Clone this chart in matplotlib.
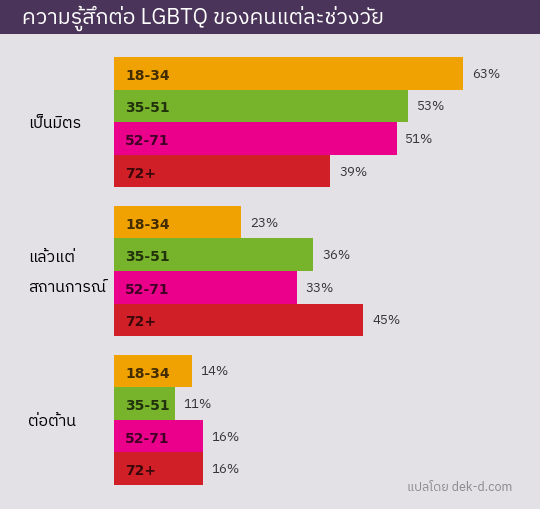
import matplotlib
matplotlib.use("Agg")
import matplotlib.pyplot as plt
from matplotlib import font_manager

# pick a font family that can draw Thai if one is installed
installed = set(f.name for f in font_manager.fontManager.ttflist)
thai_names = sorted(n for n in installed if "Thai" in n)
fams = thai_names + [n for n in ["Loma", "Garuda", "Sarabun", "Noto Sans", "DejaVu Sans"] if n in installed]
plt.rcParams["font.family"] = fams

# data
title = "ความรู้สึกต่อ LGBTQ ของคนแต่ละช่วงวัย"
groups = ["เป็นมิตร", "แล้วแต่\nสถานการณ์", "ต่อต้าน"]
ages = ["18-34", "35-51", "52-71", "72+"]
friendly = [63, 53, 51, 39]
depends = [23, 36, 33, 45]
against = [14, 11, 16, 16]
values = [friendly, depends, against]
colors = ["#f0a202", "#78b42b", "#eb008b", "#d01f26"]
credit = "แปลโดย dek-d.com"

bg = "#e3e0e6"
fig = plt.figure(figsize=(5.4, 5.1), dpi=100, facecolor=bg)

# header band
fig.patches.append(plt.Rectangle((0, 1 - 35 / 510), 1, 35 / 510, transform=fig.transFigure,
                                 facecolor="#4b3459", edgecolor="none"))
fig.text(22 / 540, 1 - 18 / 510, title, color="white", fontsize=15.5, va="center", ha="left")

ax = fig.add_axes([114 / 540, 24 / 510, 426 / 540, 428 / 510])
ax.set_facecolor(bg)
gstep = 4.57
for g, vals in enumerate(values):
    for i, v in enumerate(vals):
        y = g * gstep + i + 0.5
        ax.barh(y, v, height=1.0, color=colors[i], edgecolor="none")
        ax.text(2.0, y + 0.05, ages[i], color="black", alpha=0.72, fontsize=10,
                fontweight="heavy", va="center", ha="left", family="DejaVu Sans")
        ax.text(v + 1.6, y, f"{v}%", color="#333333", fontsize=9.5, va="center", ha="left")
    ax.text(-15.5, g * gstep + 2.0, groups[g], color="black", fontsize=11.5, va="center",
            ha="left", linespacing=2.0)

ax.set_xlim(0, 426 / 5.54)
ax.set_ylim(2 * gstep + 4, 0)
ax.axis("off")

fig.text(512 / 540, 1 - 488 / 510, credit, color="#8a8a8a", fontsize=9, ha="right", va="center")

fig.savefig("out.png", dpi=100, facecolor=bg)
